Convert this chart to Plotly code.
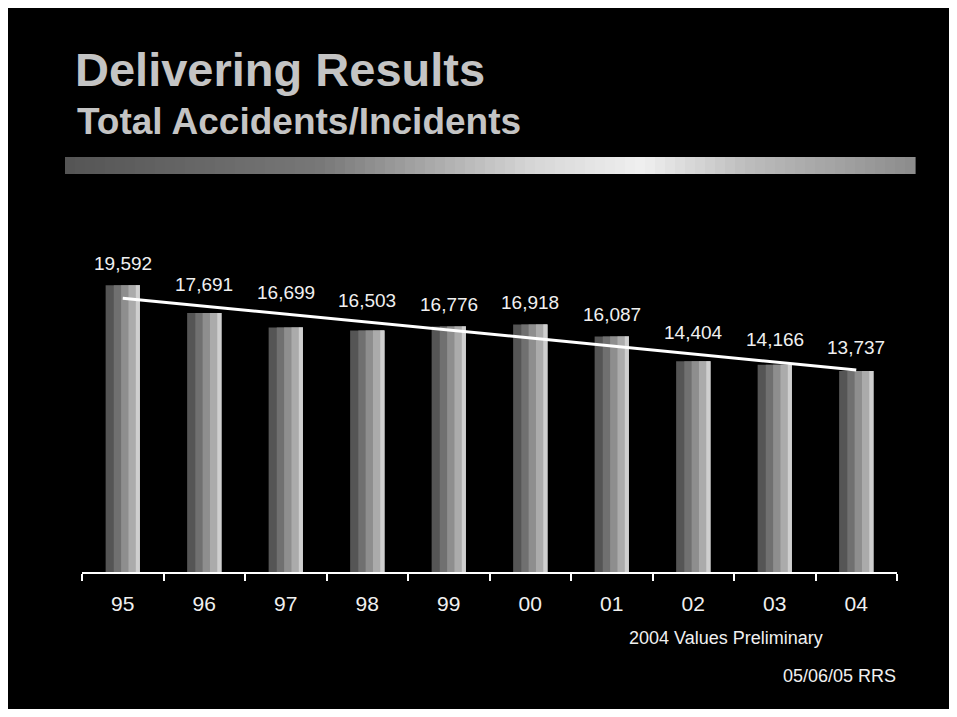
import numpy as np
import plotly.graph_objects as go

years = ['95', '96', '97', '98', '99', '00', '01', '02', '03', '04']
accidents = [19592, 17691, 16699, 16503, 16776, 16918, 16087, 14404, 14166, 13737]
title_text = "Delivering Results"
subtitle_text = "Total Accidents/Incidents"
note_text = "2004 Values Preliminary"
stamp_text = "05/06/05 RRS"

OFF = 8  # page body margin
W, H = 949, 701
L, R, T, B = 74, 60, 242, 137
PW, PH = W - L - R, H - T - B
FONT = 'Liberation Sans, Arial, sans-serif'


def px(x):
    # page pixel -> paper coordinate
    return (x - OFF - L) / PW


def py(y):
    return (H - B - (y - OFF)) / PH


# linear trend line through the data
idx = np.arange(len(accidents))
slope, icpt = np.polyfit(idx, accidents, 1)
trend = icpt + slope * idx

fig = go.Figure()

# bars drawn as vertical strips to imitate the left-dark / right-light shading
strips = [(-0.21, 0.42, '#555555'), (-0.11, 0.32, '#707070'),
          (-0.02, 0.23, '#8e8e8e'), (0.07, 0.14, '#ababab'), (0.16, 0.05, '#cfcfcf')]
for off, wd, col in strips:
    fig.add_trace(go.Bar(x=years, y=accidents, offset=off, width=wd,
                         marker=dict(color=col, line=dict(width=0)),
                         showlegend=False, hoverinfo='skip'))

fig.add_trace(go.Scatter(x=years, y=trend, mode='lines',
                         line=dict(color='white', width=3), showlegend=False,
                         hoverinfo='skip'))

annotations = []
for i, (v, tv) in enumerate(zip(accidents, trend)):
    annotations.append(dict(x=i, y=max(v, tv), xref='x', yref='y', text=f"{v:,}",
                            showarrow=False, yshift=22, yanchor='middle',
                            font=dict(size=19, color='#f0f0f0', family=FONT)))

annotations += [
    dict(x=px(73), y=py(69), xref='paper', yref='paper', text=f"<b>{title_text}</b>",
         showarrow=False, xanchor='left', yanchor='middle',
         font=dict(size=47, color='#c4c4c4', family=FONT)),
    dict(x=px(75), y=py(121), xref='paper', yref='paper', text=f"<b>{subtitle_text}</b>",
         showarrow=False, xanchor='left', yanchor='middle',
         font=dict(size=37, color='#c4c4c4', family=FONT)),
    dict(x=px(627), y=py(638), xref='paper', yref='paper', text=note_text,
         showarrow=False, xanchor='left', yanchor='middle',
         font=dict(size=18, color='#f0f0f0', family=FONT)),
    dict(x=px(898), y=py(676), xref='paper', yref='paper', text=stamp_text,
         showarrow=False, xanchor='right', yanchor='middle',
         font=dict(size=18, color='#f0f0f0', family=FONT)),
]

# gradient rule under the title
shapes = []
x0, x1, y0, y1 = 65, 915, 157, 174
n = 85
stops = [(0.0, 85), (0.3, 120), (0.55, 215), (0.68, 240), (0.8, 190), (1.0, 140)]
for i in range(n):
    f = (i + 0.5) / n
    for (a, ca), (b, cb) in zip(stops[:-1], stops[1:]):
        if a <= f <= b:
            c = int(ca + (cb - ca) * (f - a) / (b - a))
            break
    xa = x0 + (x1 - x0) * i / n
    xb = x0 + (x1 - x0) * (i + 1) / n + 0.6
    shapes.append(dict(type='rect', xref='paper', yref='paper',
                       x0=px(xa), x1=px(xb), y0=py(y1), y1=py(y0),
                       fillcolor=f'rgb({c},{c},{c})', line=dict(width=0), layer='below'))

fig.update_layout(
    width=W, height=H,
    paper_bgcolor='black', plot_bgcolor='black',
    margin=dict(l=L, r=R, t=T, b=B, pad=0),
    barmode='overlay',
    annotations=annotations,
    shapes=shapes,
    xaxis=dict(type='category', categoryorder='array', categoryarray=years,
               showgrid=False, zeroline=False, showline=True, linecolor='white',
               linewidth=2, ticks='outside', tickson='boundaries', ticklen=7,
               tickcolor='white', tickwidth=1.5, ticklabelstandoff=12,
               tickfont=dict(size=21, color='#f0f0f0', family=FONT),
               range=[-0.5, 9.5]),
    yaxis=dict(range=[0, 22000], visible=False, showgrid=False, zeroline=False),
    font=dict(family=FONT, color='white'),
)

fig.write_html("out.html")
